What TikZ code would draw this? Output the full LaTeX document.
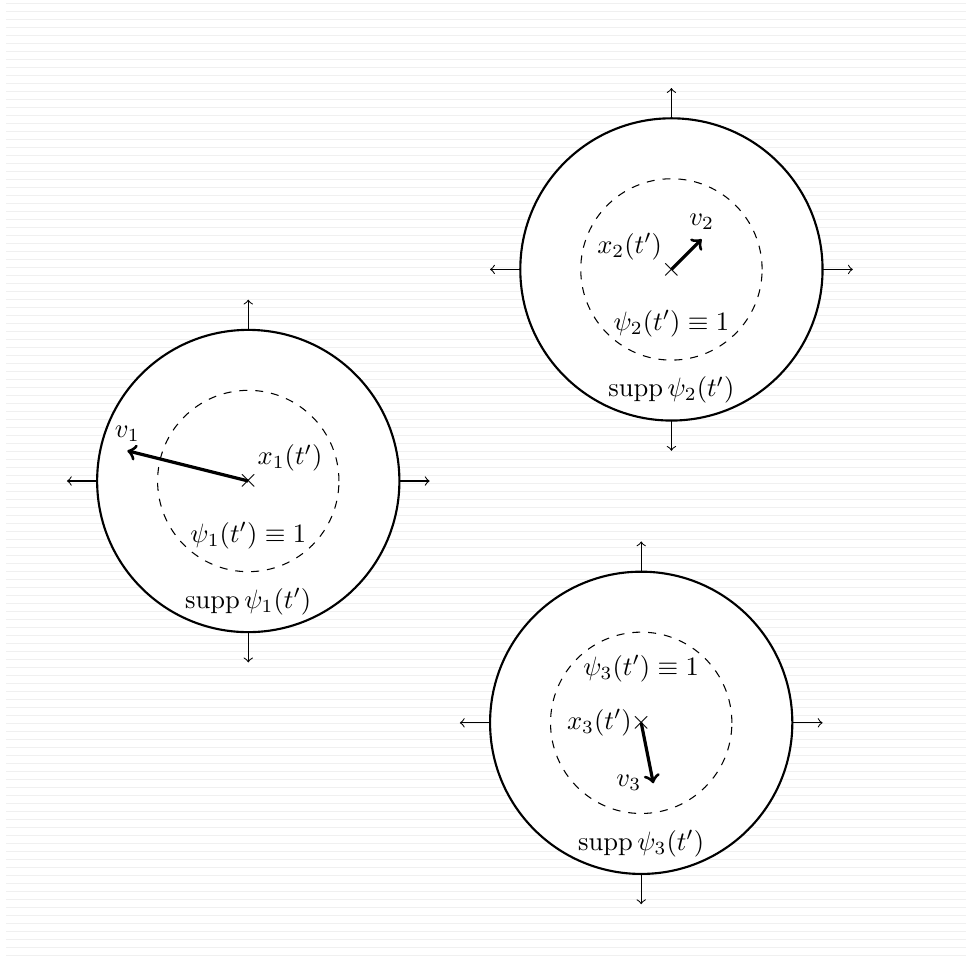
\documentclass[tikz,border=0pt]{standalone}
\usepackage{amsmath}
\tikzset{
  outercirc/.style={draw, thick, fill=white},
  innercirc/.style={draw, dashed},
  axisarrow/.style={->},
  velarrow/.style={->, very thick},
  lab/.style={},
  crossmark/.style={inner sep=0pt},
  stripe/.style={black!6, line width=0.4pt},
}
\begin{document}
\begin{tikzpicture}[scale=0.8]
\useasboundingbox (-4.107,-7.973) rectangle (11.873,7.957);
\foreach \i in {0,...,119}
  \draw[stripe] (-4.008,{7.902-0.13234*\i}) -- (11.873,{7.902-0.13234*\i});

% ---- bubble 1
\begin{scope}[shift={(0,0)}]
  \draw[outercirc] (0,0) circle (2.5);
  \draw[innercirc] (0,0) circle (1.5);
  \coordinate (a1e) at (2.5,0);  \coordinate (b1e) at (3,0);
  \coordinate (a1n) at (0,2.5);  \coordinate (b1n) at (0,3);
  \coordinate (a1w) at (-2.5,0); \coordinate (b1w) at (-3,0);
  \coordinate (a1s) at (0,-2.5); \coordinate (b1s) at (0,-3);
  \draw[axisarrow] (a1e) -- (b1e);
  \draw[axisarrow] (a1n) -- (b1n);
  \draw[axisarrow] (a1w) -- (b1w);
  \draw[axisarrow] (a1s) -- (b1s);
  \node[crossmark] (x1) at (0,0) {$\times$};
  \coordinate (v1) at (-2,0.5);
  \draw[velarrow] (x1.center) -- (v1);
  \node[lab, above] (v1l) at (v1) {$v_1$};
  \node[lab, above right] (x1l) at (x1.center) {$x_1(t')$};
  \node[lab] (p1) at (0,-0.9) {$\psi_1(t')\equiv 1$};
  \node[lab] (s1) at (0,-2) {$\operatorname{supp}\psi_1(t')$};
\end{scope}

% ---- bubble 2
\begin{scope}[shift={(7,3.5)}]
  \draw[outercirc] (0,0) circle (2.5);
  \draw[innercirc] (0,0) circle (1.5);
  \coordinate (a2e) at (2.5,0);  \coordinate (b2e) at (3,0);
  \coordinate (a2n) at (0,2.5);  \coordinate (b2n) at (0,3);
  \coordinate (a2w) at (-2.5,0); \coordinate (b2w) at (-3,0);
  \coordinate (a2s) at (0,-2.5); \coordinate (b2s) at (0,-3);
  \draw[axisarrow] (a2e) -- (b2e);
  \draw[axisarrow] (a2n) -- (b2n);
  \draw[axisarrow] (a2w) -- (b2w);
  \draw[axisarrow] (a2s) -- (b2s);
  \node[crossmark] (x2) at (0,0) {$\times$};
  \coordinate (v2) at (0.5,0.5);
  \draw[velarrow] (x2.center) -- (v2);
  \node[lab, above] (v2l) at (v2) {$v_2$};
  \node[lab, above left] (x2l) at (x2.center) {$x_2(t')$};
  \node[lab] (p2) at (0,-0.9) {$\psi_2(t')\equiv 1$};
  \node[lab] (s2) at (0,-2) {$\operatorname{supp}\psi_2(t')$};
\end{scope}

% ---- bubble 3
\begin{scope}[shift={(6.5,-4)}]
  \draw[outercirc] (0,0) circle (2.5);
  \draw[innercirc] (0,0) circle (1.5);
  \coordinate (a3e) at (2.5,0);  \coordinate (b3e) at (3,0);
  \coordinate (a3n) at (0,2.5);  \coordinate (b3n) at (0,3);
  \coordinate (a3w) at (-2.5,0); \coordinate (b3w) at (-3,0);
  \coordinate (a3s) at (0,-2.5); \coordinate (b3s) at (0,-3);
  \draw[axisarrow] (a3e) -- (b3e);
  \draw[axisarrow] (a3n) -- (b3n);
  \draw[axisarrow] (a3w) -- (b3w);
  \draw[axisarrow] (a3s) -- (b3s);
  \node[crossmark] (x3) at (0,0) {$\times$};
  \coordinate (v3) at (0.2,-1);
  \draw[velarrow] (x3.center) -- (v3);
  \node[lab, left, xshift=-1pt] (v3l) at (v3) {$v_3$};
  \node[lab, left] (x3l) at (x3.center) {$x_3(t')$};
  \node[lab] (p3) at (0,0.9) {$\psi_3(t')\equiv 1$};
  \node[lab] (s3) at (0,-2) {$\operatorname{supp}\psi_3(t')$};
\end{scope}
\end{tikzpicture}
\end{document}
